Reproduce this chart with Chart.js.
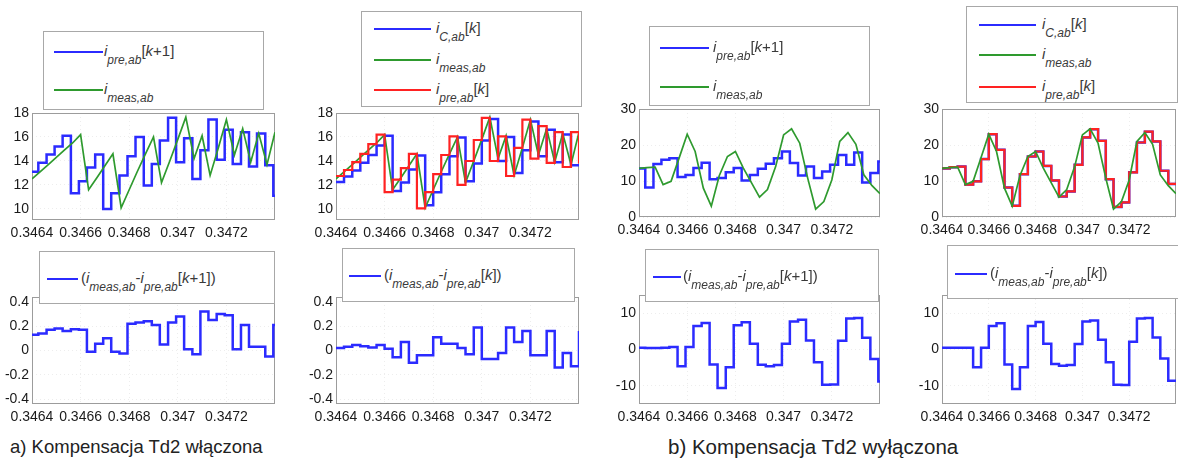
<!DOCTYPE html>
<html>
<head>
<meta charset="utf-8">
<script src="https://cdn.jsdelivr.net/npm/chart.js@4.4.1/dist/chart.umd.min.js"></script>
<style>
  body { margin: 0; width: 1178px; height: 458px; background: #fff; position: relative; overflow: hidden;
         font-family: "Liberation Sans", Arial, sans-serif; }
  canvas { position: absolute; }
  .leg { position: absolute; background: #fff; border: 1px solid #a8a8a8; box-sizing: border-box; }
  .leg .ln { position: absolute; height: 2px; }
  .leg .tx { position: absolute; font-size: 15px; line-height: 16px; color: #3a3a3a; white-space: nowrap; }
  .leg sub { font-size: 12px; vertical-align: -8px; line-height: 0; }
  .cap { position: absolute; color: #222; white-space: nowrap; }
</style>
</head>
<body>
<div class="cap" style="left:10px; top:436px; font-size:18.5px;">a) Kompensacja Td2 włączona</div>
<div class="cap" style="left:668px; top:435px; font-size:20.5px;">b) Kompensacja Td2 wyłączona</div>
<script>
// sample instants (Ts = 0.0002/6); tShift is the [k+1] prediction grid, slightly earlier
const tGrid = [0.346400, 0.346433, 0.346467, 0.346500, 0.346533, 0.346567, 0.346600, 0.346633,
  0.346667, 0.346700, 0.346733, 0.346767, 0.346800, 0.346833, 0.346867, 0.346900, 0.346933,
  0.346967, 0.347000, 0.347033, 0.347067, 0.347100, 0.347133, 0.347167, 0.347200, 0.347233,
  0.347267, 0.347300, 0.347333, 0.347367, 0.347400];
const tShift = [0.346400, 0.346426, 0.346460, 0.346493, 0.346526, 0.346560, 0.346593, 0.346626,
  0.346660, 0.346693, 0.346726, 0.346760, 0.346793, 0.346826, 0.346860, 0.346893, 0.346926,
  0.346960, 0.346993, 0.347026, 0.347060, 0.347093, 0.347126, 0.347160, 0.347193, 0.347226,
  0.347260, 0.347293, 0.347326, 0.347360, 0.347393, 0.347400];

const xTicks = [0.3464, 0.3466, 0.3468, 0.347, 0.3472];

// a) Td2 compensation on
const measOn = [12.5, 13.1, 13.7, 14.3, 14.9, 15.5, 16.2, 11.6, 12.6, 13.6, 14.6, 10.1, 11.6, 13.1,
  14.6, 16.0, 12.2, 14.0, 15.8, 17.65, 14.2, 16.1, 12.8, 15.1, 17.45, 14.5, 16.7, 13.9, 16.3, 13.7, 16.4];
const predNextOn = [13.1, 13.85, 14.55, 15.2, 16.1, 11.3, 12.3, 13.45, 14.55, 10.0, 11.3, 12.8, 14.4,
  16.0, 11.95, 13.75, 15.7, 17.6, 13.9, 15.9, 12.5, 14.9, 17.45, 14.1, 16.6, 13.75, 16.4, 13.55, 16.3,
  13.65, 11.1, 11.1];
const currCOn = [12.25, 12.7, 13.2, 13.85, 14.5, 15.3, 16.1, 11.5, 12.2, 13.3, 14.45, 10.3, 11.4, 12.9,
  14.4, 15.95, 12.3, 13.8, 15.7, 17.5, 14.0, 16.0, 13.0, 14.9, 17.3, 14.4, 16.6, 13.9, 16.2, 13.65, 13.65];
const predOn = [12.75, 13.25, 13.9, 14.6, 15.4, 16.2, 11.4, 12.45, 13.4, 14.6, 10.05, 11.4, 12.9, 14.5,
  16.05, 12.0, 14.0, 15.75, 17.6, 14.0, 16.05, 12.75, 15.1, 17.45, 14.2, 16.9, 13.85, 16.4, 13.5, 16.4, 13.8];
const errNextOn = [0.13, 0.14, 0.17, 0.18, 0.16, 0.175, 0.17, -0.01, 0.055, 0.10, -0.01, -0.025, 0.22,
  0.23, 0.24, 0.21, 0.05, 0.23, 0.28, 0.01, -0.03, 0.32, 0.25, 0.30, 0.29, 0.01, 0.21, 0.03, 0.03, -0.05,
  0.21, 0.21];
const errOn = [0.02, 0.03, 0.045, 0.035, 0.025, 0.045, 0.015, -0.055, 0.07, -0.1, -0.04, -0.04, 0.11,
  0.055, 0.055, 0.02, -0.03, 0.19, -0.07, -0.07, -0.02, 0.19, 0.07, 0.16, -0.04, -0.04, 0.16, -0.14,
  -0.02, -0.13, 0.16];

// b) Td2 compensation off
const measOff = [13.5, 13.7, 13.85, 9.0, 9.9, 16.5, 23.0, 18.2, 8.0, 3.0, 11.45, 16.8, 18.2, 13.6, 9.5,
  5.5, 7.6, 14.0, 22.8, 24.5, 20.5, 10.8, 2.2, 4.3, 10.3, 21.0, 23.45, 20.2, 11.7, 8.7, 6.5];
const predNextOff = [13.5, 8.2, 14.7, 15.9, 16.35, 11.1, 11.7, 13.6, 15.1, 10.5, 10.8, 12.4, 13.6, 10.15,
  11.7, 13.4, 14.8, 16.35, 18.2, 15.0, 11.55, 14.0, 10.8, 12.65, 14.5, 17.25, 14.5, 17.9, 9.6, 12.2,
  15.4, 15.4];
const predOff = [13.5, 13.85, 14.0, 9.0, 9.9, 16.1, 23.0, 18.65, 8.2, 3.1, 11.9, 16.8, 18.2, 14.2, 10.15,
  5.7, 7.1, 14.5, 22.1, 24.4, 21.15, 10.5, 2.8, 4.05, 12.4, 20.7, 23.7, 21.0, 12.85, 9.2, 9.2];
const currCOff = [13.5, 13.85, 14.0, 9.0, 9.9, 16.1, 23.0, 18.65, 8.2, 3.1, 11.9, 16.8, 18.2, 14.2, 10.15,
  5.7, 7.1, 14.5, 22.1, 24.4, 21.15, 10.5, 2.8, 4.05, 12.4, 20.7, 23.7, 21.0, 12.85, 9.2, 9.2];
const errNextOff = [0.5, 0.4, 0.4, 0.5, 0.7, -4.6, 0.7, 6.5, 7.3, -4.1, -10.6, -4.9, 6.7, 7.5, 1.6, -4.2,
  -4.6, -4.3, 1.6, 7.7, 8.2, 2.5, -3.5, -9.7, -9.6, 2.4, 8.5, 8.7, 3.2, -2.6, -8.8, -8.8];
const errOff = [0.5, 0.5, 0.5, 0.5, -4.9, 0.5, 6.5, 7.2, -4.1, -10.9, -4.9, 6.5, 7.6, 1.6, -4.0, -4.5,
  -4.3, 1.5, 7.7, 8.0, 2.7, -3.5, -9.7, -9.8, 2.1, 8.5, 8.7, 3.3, -2.5, -8.6, -8.6];

const BLUE = "#2b2bff", GREEN = "#2e9a2e", RED = "#ff2222";

function series(ts, vs) {
  return ts.map((t, i) => ({ x: t, y: vs[i] }));
}
function step(ts, vs, color, w) {
  return { data: series(ts, vs), borderColor: color, borderWidth: w, stepped: true, pointRadius: 0 };
}
function lin(ts, vs, color, w) {
  return { data: series(ts, vs), borderColor: color, borderWidth: w, pointRadius: 0, tension: 0 };
}

// draws the axes box round the plot area
const boxFrame = {
  id: "boxFrame",
  beforeDatasetsDraw(chart) {
    const a = chart.chartArea, c = chart.ctx;
    c.save();
    c.strokeStyle = "#9c9c9c";
    c.lineWidth = 1;
    c.strokeRect(a.left + 0.5, a.top + 0.5, a.right - a.left - 1, a.bottom - a.top - 1);
    c.restore();
  }
};

function makePlot(box, yMin, yMax, yTicks, datasets) {
  const yw = Math.min(40, box.l);
  const cv = document.createElement("canvas");
  const w = box.r - box.l + yw + 8, h = box.b - box.t + 12 + 26;
  cv.width = w; cv.height = h;
  cv.style.left = (box.l - yw) + "px";
  cv.style.top = (box.t - 12) + "px";
  cv.style.width = w + "px"; cv.style.height = h + "px";
  document.body.appendChild(cv);
  const font = { family: "'Liberation Sans', Arial, sans-serif", size: 14 };
  new Chart(cv.getContext("2d"), {
    type: "line",
    data: { datasets: datasets },
    options: {
      responsive: false,
      animation: false,
      devicePixelRatio: 1,
      layout: { padding: { top: 12, right: 8, left: 0, bottom: 0 } },
      plugins: { legend: { display: false }, tooltip: { enabled: false } },
      scales: {
        x: {
          type: "linear", min: 0.3464, max: 0.3474,
          afterBuildTicks: (s) => { s.ticks = xTicks.map((v) => ({ value: v })); },
          afterFit: (s) => { s.height = 26; },
          grid: { color: "#ededed", drawTicks: false },
          border: { display: false, dash: [1, 3] },
          ticks: { color: "#1a1a1a", font: font, padding: 5, autoSkip: false, maxRotation: 0,
                   callback: (v) => String(parseFloat(Number(v).toFixed(4))) }
        },
        y: {
          min: yMin, max: yMax,
          afterBuildTicks: (s) => { s.ticks = yTicks.map((v) => ({ value: v })); },
          afterFit: (s) => { s.width = yw; },
          grid: { color: "#ededed", drawTicks: false },
          border: { display: false, dash: [1, 3] },
          ticks: { color: "#1a1a1a", font: font, padding: 3,
                   callback: (v) => String(parseFloat(Number(v).toFixed(2))) }
        }
      }
    },
    plugins: [boxFrame]
  });
}

const yA = [10, 12, 14, 16, 18], yB = [0, 10, 20, 30];
const yE = [-0.4, -0.2, 0, 0.2, 0.4], yF = [-10, 0, 10];

makePlot({ l: 32, r: 275, t: 113, b: 220 }, 9.08, 18, yA, [
  lin(tGrid, measOn, GREEN, 1.7),
  step(tShift, predNextOn, BLUE, 2.5)
]);
makePlot({ l: 336, r: 579, t: 113, b: 220 }, 9.08, 18, yA, [
  step(tGrid, predOn, RED, 2.2),
  lin(tGrid, measOn, GREEN, 1.7),
  step(tGrid, currCOn, BLUE, 2.5)
]);
makePlot({ l: 639, r: 880, t: 109, b: 217 }, 0, 30, yB, [
  lin(tGrid, measOff, GREEN, 1.7),
  step(tShift, predNextOff, BLUE, 2.5)
]);
makePlot({ l: 942, r: 1176, t: 109, b: 217 }, 0, 30, yB, [
  lin(tGrid, measOff, GREEN, 1.7),
  step(tGrid, predOff, RED, 2.2),
  step(tGrid, currCOff, BLUE, 2.5)
]);
makePlot({ l: 32, r: 275, t: 297, b: 404 }, -0.44, 0.44, yE, [step(tShift, errNextOn, BLUE, 2.5)]);
makePlot({ l: 336, r: 579, t: 297, b: 404 }, -0.44, 0.44, yE, [step(tGrid, errOn, BLUE, 2.5)]);
makePlot({ l: 639, r: 880, t: 295, b: 404 }, -15, 15, yF, [step(tShift, errNextOff, BLUE, 2.5)]);
makePlot({ l: 942, r: 1176, t: 295, b: 404 }, -15, 15, yF, [step(tGrid, errOff, BLUE, 2.5)]);

// legend boxes (HTML so that the sub-scripts stay real text)
const txtPreNext = "<i>i</i><sub><i>pre,ab</i></sub>[<i>k</i>+1]";
const txtMeas = "<i>i</i><sub><i>meas,ab</i></sub>";
const txtC = "<i>i</i><sub><i>C,ab</i></sub>[<i>k</i>]";
const txtPre = "<i>i</i><sub><i>pre,ab</i></sub>[<i>k</i>]";
const txtErrNext = "(<i>i</i><sub><i>meas,ab</i></sub>-<i>i</i><sub><i>pre,ab</i></sub>[<i>k</i>+1])";
const txtErr = "(<i>i</i><sub><i>meas,ab</i></sub>-<i>i</i><sub><i>pre,ab</i></sub>[<i>k</i>])";

function legend(box, lx1, lx2, tx, items) {
  const d = document.createElement("div");
  d.className = "leg";
  d.style.left = box.l + "px"; d.style.top = box.t + "px";
  d.style.width = box.w + "px"; d.style.height = box.h + "px";
  items.forEach((it) => {
    const ln = document.createElement("div");
    ln.className = "ln";
    ln.style.left = lx1 + "px"; ln.style.width = (lx2 - lx1) + "px";
    ln.style.top = (it.y - 1) + "px"; ln.style.background = it.color;
    d.appendChild(ln);
    const s = document.createElement("span");
    s.className = "tx";
    s.style.left = tx + "px"; s.style.top = (it.y - 9) + "px";
    s.innerHTML = it.html;
    d.appendChild(s);
  });
  document.body.appendChild(d);
}

legend({ l: 43, t: 31, w: 221, h: 79 }, 10, 59, 60, [
  { y: 20, color: BLUE, html: txtPreNext }, { y: 58, color: GREEN, html: txtMeas }]);
legend({ l: 361, t: 11, w: 221, h: 96 }, 12, 69, 74, [
  { y: 17, color: BLUE, html: txtC }, { y: 48, color: GREEN, html: txtMeas }, { y: 78, color: RED, html: txtPre }]);
legend({ l: 649, t: 26, w: 221, h: 80 }, 10, 59, 63, [
  { y: 21, color: BLUE, html: txtPreNext }, { y: 60, color: GREEN, html: txtMeas }]);
legend({ l: 966, t: 6, w: 212, h: 97 }, 12, 69, 75, [
  { y: 18, color: BLUE, html: txtC }, { y: 48, color: GREEN, html: txtMeas }, { y: 80, color: RED, html: txtPre }]);
legend({ l: 39, t: 251, w: 236, h: 53 }, 7, 38, 41, [{ y: 27, color: BLUE, html: txtErrNext }]);
legend({ l: 342, t: 248, w: 233, h: 54 }, 6, 38, 41, [{ y: 27, color: BLUE, html: txtErr }]);
legend({ l: 645, t: 249, w: 234, h: 53 }, 7, 35, 37, [{ y: 27, color: BLUE, html: txtErrNext }]);
legend({ l: 947, t: 245, w: 240, h: 54 }, 7, 39, 42, [{ y: 28, color: BLUE, html: txtErr }]);
</script>
</body>
</html>
